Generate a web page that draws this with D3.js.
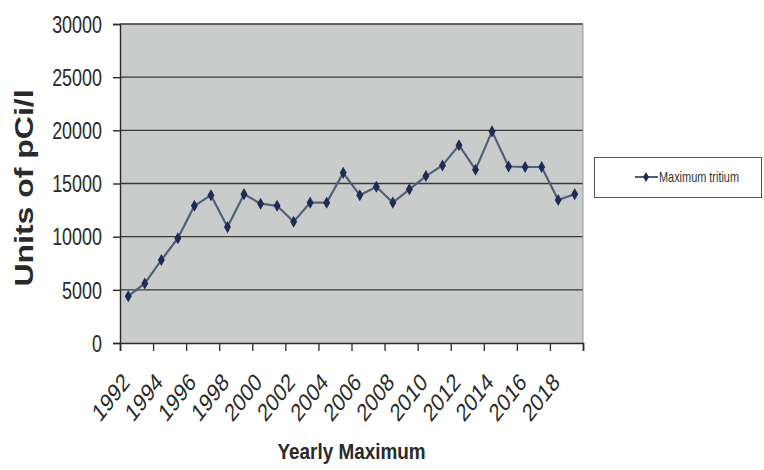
<!DOCTYPE html>
<html>
<head>
<meta charset="utf-8">
<script src="https://cdn.jsdelivr.net/npm/d3@7"></script>
<style>
  html, body { margin: 0; padding: 0; background: #fff; }
  svg { display: block; }
</style>
</head>
<body>
<svg id="chart" width="764" height="470"></svg>
<script>
// ---- data ----
const years = [1992,1993,1994,1995,1996,1997,1998,1999,2000,2001,2002,2003,2004,2005,
               2006,2007,2008,2009,2010,2011,2012,2013,2014,2015,2016,2017,2018,2019];
const maxTritium = [4400,5600,7800,9850,12900,13900,10900,14000,13100,12900,11400,13200,13200,16000,
                    13900,14700,13200,14450,15700,16700,18600,16300,19900,16600,16550,16550,13450,14000];
const yTicks = [0,5000,10000,15000,20000,25000,30000];
const xLabelYears = [1992,1994,1996,1998,2000,2002,2004,2006,2008,2010,2012,2014,2016,2018];
const seriesName = "Maximum tritium";
const yTitle = "Units of pCi/l";
const xTitle = "Yearly Maximum";

// ---- layout ----
const svg = d3.select("#chart");
const plot = { left: 120, top: 24, right: 583, bottom: 343 };
const sans = "'Liberation Sans', Arial, sans-serif";
const ink = "#2a2a2a";
const sx = 0.78; // horizontal squeeze of the photographed chart

const x = d3.scaleBand().domain(years).range([plot.left, plot.right]);
const xEdge = d3.scaleLinear().domain([0, years.length]).range([plot.left, plot.right]);
const y = d3.scaleLinear().domain([0, 30000]).range([plot.bottom, plot.top]);

// plot background
svg.append("rect")
  .attr("x", plot.left).attr("y", plot.top)
  .attr("width", plot.right - plot.left).attr("height", plot.bottom - plot.top)
  .attr("fill", "#cacccc");

// gridlines
svg.append("g").selectAll("line").data(yTicks.filter(d => d > 0)).join("line")
  .attr("x1", plot.left).attr("x2", plot.right)
  .attr("y1", d => y(d)).attr("y2", d => y(d))
  .attr("stroke", "#3a3a3a").attr("stroke-width", 1.4);

// right border of plot (light)
svg.append("line")
  .attr("x1", plot.right).attr("x2", plot.right)
  .attr("y1", plot.top).attr("y2", plot.bottom)
  .attr("stroke", "#9a9a9a").attr("stroke-width", 1);

// y axis
const yAxis = svg.append("g")
  .attr("transform", `translate(${plot.left},0)`)
  .call(d3.axisLeft(y).tickValues(yTicks).tickSize(7).tickPadding(11).tickFormat(d3.format("d")));
yAxis.select(".domain").attr("stroke", ink).attr("stroke-width", 1.4);
yAxis.selectAll(".tick line").attr("stroke", ink).attr("stroke-width", 1.4);
yAxis.selectAll("text")
  .attr("font-family", sans).attr("font-size", 23).attr("fill", ink)
  .attr("x", 0).attr("dy", "0.36em")
  .attr("transform", `translate(-18,0) scale(${sx},1)`);

// x axis: tick marks at every-2-category boundaries
const xTickAxis = svg.append("g")
  .attr("transform", `translate(0,${plot.bottom})`)
  .call(d3.axisBottom(xEdge).tickValues(d3.range(0, years.length + 1, 2)).tickSize(8).tickFormat(""));
xTickAxis.select(".domain").attr("stroke", ink).attr("stroke-width", 1.6);
xTickAxis.selectAll(".tick line").attr("stroke", ink).attr("stroke-width", 1.3);

// x labels, rotated 45° then squeezed horizontally
const xLabAxis = svg.append("g")
  .attr("transform", `translate(0,${plot.bottom})`)
  .call(d3.axisBottom(x).tickValues(xLabelYears).tickSize(0).tickPadding(0));
xLabAxis.select(".domain").remove();
xLabAxis.selectAll("text")
  .attr("font-family", sans)
  .attr("font-size", 25).attr("fill", ink)
  .attr("text-anchor", "end")
  .attr("dy", null).attr("y", 0)
  .attr("transform", `translate(-1,36) scale(${sx},1) rotate(-45)`)
  .attr("dominant-baseline", "middle");

// line
const line = d3.line().x((d, i) => x(years[i]) + x.bandwidth() / 2).y(d => y(d));
svg.append("path").datum(maxTritium)
  .attr("d", line).attr("fill", "none")
  .attr("stroke", "#506079").attr("stroke-width", 2.2).attr("stroke-linejoin", "round");

// markers (diamonds)
const diamond = d3.symbol().type(d3.symbolDiamond).size(42);
svg.append("g").selectAll("path").data(maxTritium).join("path")
  .attr("d", diamond)
  .attr("transform", (d, i) => `translate(${x(years[i]) + x.bandwidth() / 2},${y(d)})`)
  .attr("fill", "#1e2b55");

// axis titles
svg.append("text")
  .attr("transform", `translate(33,188) scale(${sx},1) rotate(-90)`)
  .attr("text-anchor", "middle")
  .attr("font-family", sans)
  .attr("font-weight", "bold").attr("font-size", 32)
  .attr("fill", ink)
  .text(yTitle);

svg.append("text")
  .attr("transform", `translate(${(plot.left + plot.right) / 2},459) scale(0.86,1)`)
  .attr("text-anchor", "middle")
  .attr("font-family", sans)
  .attr("font-weight", "bold").attr("font-size", 22)
  .attr("fill", ink)
  .text(xTitle);

// legend
const lg = svg.append("g");
lg.append("rect").attr("x", 594.5).attr("y", 157.5).attr("width", 167).attr("height", 40)
  .attr("fill", "#fff").attr("stroke", "#555").attr("stroke-width", 1);
lg.append("line").attr("x1", 635).attr("x2", 658).attr("y1", 177).attr("y2", 177)
  .attr("stroke", "#506079").attr("stroke-width", 2);
lg.append("path").attr("d", d3.symbol().type(d3.symbolDiamond).size(30))
  .attr("transform", "translate(646,177)").attr("fill", "#1e2b55");
lg.append("text")
  .attr("transform", `translate(659,182) scale(${sx},1)`)
  .attr("font-family", sans).attr("font-size", 14).attr("fill", "#333")
  .text(seriesName);
</script>
</body>
</html>
